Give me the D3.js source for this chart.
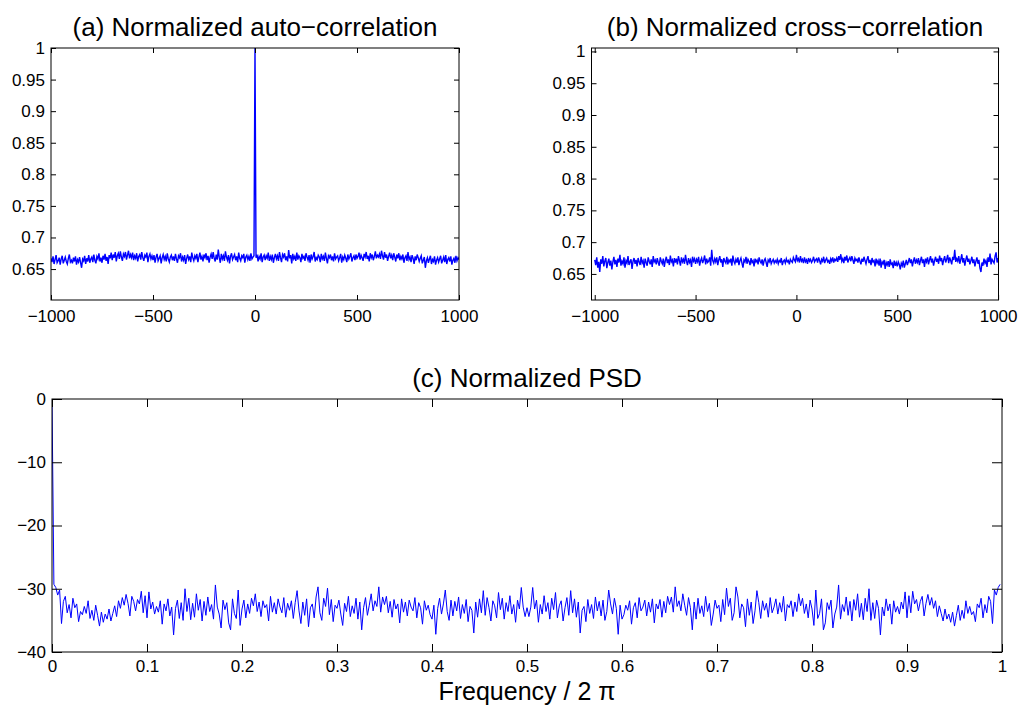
<!DOCTYPE html>
<html>
<head>
<meta charset="utf-8">
<script src="https://cdn.jsdelivr.net/npm/d3@7"></script>
<style>
    body { margin: 0; background: #fff; }
    svg { display: block; font-family: "Liberation Sans", Arial, Helvetica, sans-serif; }
    .tick text { font-size: 17px; fill: #000; }
    .tick line { stroke: #000; }
</style>
</head>
<body>
<script>
// lags -1000..1000, every 5th lag
let autoCorr = [
    0.667,0.661,0.670,0.658,0.665,0.672,0.660,0.663,0.668,0.657,0.666,0.671,0.659,0.664,0.669,0.662,0.658,0.667,0.673,0.661,
    0.664,0.659,0.668,0.662,0.670,0.657,0.665,0.661,0.669,0.660,0.652,0.666,0.663,0.671,0.658,0.667,0.662,0.672,0.660,0.666,
    0.669,0.661,0.673,0.664,0.659,0.670,0.666,0.675,0.662,0.668,0.660,0.671,0.665,0.674,0.663,0.669,0.658,0.672,0.667,0.676,
    0.664,0.673,0.668,0.677,0.662,0.671,0.675,0.666,0.678,0.669,0.663,0.674,0.670,0.677,0.665,0.672,0.679,0.667,0.673,0.668,
    0.676,0.664,0.671,0.667,0.675,0.662,0.670,0.673,0.665,0.677,0.668,0.663,0.672,0.669,0.676,0.661,0.670,0.674,0.666,0.671,
    0.664,0.672,0.660,0.669,0.674,0.663,0.667,0.671,0.659,0.668,0.673,0.665,0.670,0.662,0.675,0.666,0.661,0.669,0.672,0.664,
    0.670,0.663,0.674,0.666,0.660,0.671,0.668,0.675,0.662,0.669,0.664,0.672,0.658,0.667,0.673,0.665,0.670,0.661,0.676,0.668,
    0.663,0.671,0.667,0.674,0.661,0.669,0.676,0.665,0.670,0.662,0.673,0.668,0.675,0.664,0.671,0.660,0.669,0.674,0.666,0.677,
    0.667,0.662,0.673,0.665,0.681,0.668,0.660,0.674,0.666,0.671,0.663,0.678,0.669,0.664,0.672,0.659,0.670,0.675,0.665,0.669,
    0.673,0.664,0.670,0.661,0.676,0.667,0.663,0.671,0.668,0.674,0.660,0.669,0.672,0.665,0.670,0.663,0.675,0.666,0.669,0.671,
    1.000,
    0.668,0.673,0.662,0.670,0.666,0.675,0.661,0.669,0.672,0.664,0.671,0.667,0.676,0.663,0.670,0.665,0.673,0.660,0.668,0.674,
    0.666,0.671,0.663,0.677,0.668,0.661,0.673,0.669,0.675,0.664,0.670,0.662,0.680,0.667,0.672,0.659,0.674,0.666,0.670,0.663,
    0.676,0.665,0.671,0.668,0.661,0.674,0.667,0.670,0.663,0.675,0.669,0.664,0.672,0.660,0.673,0.666,0.670,0.677,0.662,0.668,
    0.665,0.672,0.669,0.661,0.674,0.666,0.670,0.663,0.676,0.667,0.659,0.671,0.668,0.673,0.664,0.670,0.662,0.675,0.666,0.669,
    0.671,0.663,0.668,0.674,0.660,0.669,0.665,0.672,0.667,0.661,0.673,0.666,0.670,0.675,0.662,0.668,0.671,0.664,0.673,0.667,
    0.670,0.676,0.665,0.672,0.668,0.663,0.674,0.669,0.677,0.666,0.671,0.662,0.675,0.668,0.673,0.664,0.670,0.678,0.667,0.672,
    0.669,0.674,0.666,0.679,0.671,0.665,0.677,0.668,0.673,0.663,0.670,0.676,0.667,0.672,0.664,0.675,0.669,0.662,0.673,0.667,
    0.675,0.664,0.670,0.666,0.673,0.660,0.668,0.671,0.663,0.677,0.665,0.669,0.661,0.672,0.667,0.658,0.670,0.664,0.673,0.668,
    0.662,0.667,0.671,0.659,0.664,0.669,0.652,0.663,0.668,0.660,0.666,0.671,0.658,0.665,0.662,0.670,0.657,0.664,0.668,0.661,
    0.666,0.671,0.659,0.664,0.669,0.661,0.672,0.658,0.665,0.668,0.662,0.670,0.657,0.664,0.667,0.660,0.671,0.663,0.668,0.665
]

let crossCorr = [
    0.672,0.664,0.676,0.660,0.669,0.653,0.673,0.666,0.678,0.662,0.670,0.675,0.659,0.668,0.674,0.663,0.671,0.657,0.669,0.677,
    0.665,0.672,0.661,0.674,0.668,0.680,0.663,0.670,0.666,0.676,0.660,0.671,0.667,0.678,0.664,0.669,0.673,0.658,0.670,0.675,
    0.666,0.672,0.662,0.675,0.669,0.664,0.677,0.667,0.671,0.660,0.674,0.668,0.663,0.676,0.670,0.665,0.673,0.661,0.678,0.669,
    0.672,0.665,0.675,0.668,0.663,0.676,0.670,0.666,0.674,0.661,0.671,0.677,0.667,0.673,0.664,0.679,0.669,0.672,0.662,0.675,
    0.668,0.674,0.665,0.678,0.671,0.663,0.676,0.669,0.673,0.666,0.680,0.670,0.664,0.675,0.668,0.672,0.661,0.677,0.670,0.674,
    0.666,0.673,0.669,0.677,0.663,0.671,0.675,0.667,0.672,0.679,0.665,0.674,0.668,0.670,0.676,0.663,0.688,0.671,0.667,0.674,
    0.669,0.676,0.664,0.672,0.678,0.668,0.673,0.661,0.675,0.670,0.667,0.677,0.665,0.672,0.669,0.674,0.663,0.679,0.670,0.666,
    0.673,0.668,0.676,0.664,0.671,0.675,0.667,0.660,0.672,0.669,0.677,0.666,0.673,0.670,0.664,0.675,0.668,0.671,0.662,0.674,
    0.669,0.672,0.665,0.676,0.670,0.667,0.673,0.663,0.671,0.674,0.668,0.661,0.672,0.669,0.675,0.666,0.670,0.673,0.667,0.671,
    0.668,0.673,0.666,0.671,0.669,0.675,0.664,0.670,0.672,0.667,0.674,0.669,0.671,0.665,0.673,0.670,0.668,0.676,0.672,0.669,
    0.680,0.671,0.674,0.668,0.678,0.670,0.673,0.667,0.676,0.669,0.672,0.666,0.675,0.670,0.673,0.668,0.671,0.677,0.669,0.672,
    0.674,0.668,0.676,0.671,0.665,0.673,0.670,0.677,0.667,0.672,0.675,0.669,0.671,0.666,0.674,0.670,0.676,0.668,0.673,0.671,
    0.675,0.669,0.678,0.672,0.681,0.670,0.674,0.667,0.677,0.671,0.679,0.668,0.673,0.676,0.670,0.678,0.672,0.666,0.675,0.671,
    0.673,0.668,0.676,0.670,0.665,0.674,0.669,0.677,0.671,0.666,0.673,0.678,0.667,0.672,0.664,0.675,0.669,0.671,0.662,0.674,
    0.667,0.671,0.663,0.674,0.660,0.669,0.666,0.672,0.658,0.668,0.664,0.670,0.661,0.673,0.665,0.667,0.659,0.671,0.663,0.668,
    0.662,0.669,0.665,0.657,0.667,0.663,0.671,0.660,0.666,0.672,0.664,0.669,0.675,0.667,0.673,0.662,0.670,0.676,0.666,0.672,
    0.668,0.675,0.664,0.671,0.677,0.667,0.673,0.661,0.674,0.669,0.676,0.665,0.672,0.678,0.668,0.674,0.663,0.671,0.677,0.669,
    0.674,0.666,0.679,0.670,0.675,0.664,0.672,0.678,0.668,0.673,0.680,0.667,0.676,0.671,0.665,0.677,0.672,0.688,0.669,0.674,
    0.670,0.678,0.666,0.673,0.681,0.668,0.675,0.663,0.672,0.679,0.669,0.674,0.665,0.671,0.677,0.667,0.673,0.662,0.670,0.676,
    0.666,0.672,0.659,0.653,0.668,0.663,0.674,0.667,0.671,0.661,0.676,0.669,0.682,0.665,0.673,0.670,0.667,0.678,0.684,0.668,
    0.675
]

// normalized PSD in dB, frequency / 2pi from 0 to 0.998
let psdDb = [
    0.0,
    -29.3,-29.8,-31.0,-30.2,-35.5,-32.0,-31.2,-33.8,-32.5,-34.6,-31.5,-33.0,-32.4,-35.2,-33.6,-34.1,-32.8,-33.9,-31.9,-34.7,-33.4,-35.0,-32.6,-34.2,
    -35.9,-33.7,-35.3,-34.0,-34.8,-33.2,-35.1,-33.9,-32.7,-34.4,-31.9,-33.1,-31.4,-32.6,-30.9,-32.3,-34.3,-31.2,-32.0,-33.5,-31.7,-32.4,-30.4,-33.8,-31.1,
    -34.6,-30.5,-33.2,-32.1,-34.0,-32.8,-33.7,-31.9,-35.6,-32.4,-33.5,-31.6,-34.3,-32.9,-37.3,-33.1,-31.8,-34.7,-32.2,-35.0,-30.0,-33.6,-31.5,-34.9,-32.3,
    -34.5,-30.8,-33.4,-31.7,-35.1,-32.0,-34.2,-31.3,-33.6,-32.5,-34.8,-29.4,-32.9,-34.0,-36.2,-31.8,-33.3,-32.2,-35.4,-36.5,-31.6,-33.9,-34.7,-30.2,-35.8,
    -33.2,-31.8,-34.6,-32.4,-33.9,-31.5,-32.7,-30.8,-33.6,-32.1,-34.4,-31.9,-33.0,-32.5,-35.1,-31.2,-33.7,-32.2,-34.0,-31.6,-32.9,-33.8,-31.4,-34.5,-32.3,
    -33.4,-31.9,-34.7,-32.2,-30.3,-33.5,-35.5,-32.1,-34.2,-31.6,-36.0,-33.0,-32.4,-34.6,-31.3,-29.7,-33.8,-35.0,-31.5,-32.8,-29.9,-34.1,-31.7,-35.2,-32.6,
    -33.1,-31.8,-34.0,-35.8,-32.3,-33.6,-31.2,-34.4,-32.7,-33.9,-31.5,-34.8,-32.1,-36.5,-33.0,-31.4,-34.2,-32.6,-30.8,-33.5,-31.9,-32.8,-29.7,-33.7,-31.3,
    -32.5,-31.2,-33.8,-32.0,-34.5,-31.7,-33.2,-32.4,-35.4,-31.6,-33.7,-32.1,-34.3,-31.8,-32.9,-33.5,-31.4,-34.6,-32.2,-33.0,-35.6,-31.9,-33.4,-32.6,-34.1,
    -34.8,-32.6,-37.2,-33.1,-31.5,-34.0,-32.4,-30.2,-33.6,-35.0,-31.8,-34.3,-32.0,-33.5,-31.3,-34.7,-32.5,-33.9,-31.7,-35.2,-32.8,-33.4,-37.0,-32.1,-34.5,
    -31.6,-33.8,-30.3,-34.2,-31.4,-33.0,-35.1,-31.9,-32.7,-34.6,-30.6,-33.3,-31.5,-34.8,-32.2,-33.6,-31.1,-34.0,-32.5,-35.3,-31.8,-33.2,-29.8,-32.9,-34.4,
    -33.0,
    -34.4,-32.9,-29.8,-33.2,-31.8,-35.3,-32.5,-34.0,-31.1,-33.6,-32.2,-34.8,-31.5,-33.3,-30.6,-34.6,-32.7,-31.9,-35.1,-33.0,-31.4,-34.2,-30.3,-33.8,-31.6,
    -34.5,-32.1,-37.0,-33.4,-32.8,-35.2,-31.7,-33.9,-32.5,-34.7,-31.3,-33.5,-32.0,-34.3,-31.8,-35.0,-33.6,-30.2,-32.4,-34.0,-31.5,-33.1,-37.2,-32.6,-34.8,
    -34.1,-32.6,-33.4,-31.9,-35.6,-33.0,-32.2,-34.6,-31.4,-33.5,-32.9,-31.8,-34.3,-32.1,-33.7,-31.6,-35.4,-32.4,-33.2,-31.7,-34.5,-32.0,-33.8,-31.2,-32.5,
    -31.3,-33.7,-29.7,-32.8,-31.9,-33.5,-30.8,-32.6,-34.2,-31.4,-33.0,-36.5,-32.1,-34.8,-31.5,-33.9,-32.7,-34.4,-31.2,-33.6,-32.3,-35.8,-34.0,-31.8,-33.1,
    -32.6,-35.2,-31.7,-34.1,-29.9,-32.8,-31.5,-35.0,-33.8,-29.7,-31.3,-34.6,-32.4,-33.0,-36.0,-31.6,-34.2,-32.1,-35.5,-33.5,-30.3,-32.2,-34.7,-31.9,-33.4,
    -32.3,-34.5,-31.4,-33.8,-32.9,-31.6,-34.0,-32.2,-33.7,-31.2,-35.1,-32.5,-33.0,-31.9,-34.4,-32.1,-33.6,-30.8,-32.7,-31.5,-33.9,-32.4,-34.6,-31.8,-33.2,
    -35.8,-30.2,-34.7,-33.9,-31.6,-36.5,-35.4,-32.2,-33.3,-31.8,-36.2,-34.0,-32.9,-29.4,-34.8,-32.5,-33.6,-31.3,-34.2,-32.0,-35.1,-31.7,-33.4,-30.8,-34.5,
    -32.3,-34.9,-31.5,-33.6,-30.0,-35.0,-32.2,-34.7,-31.8,-33.1,-37.3,-32.9,-34.3,-31.6,-33.5,-32.4,-35.6,-31.9,-33.7,-32.8,-34.0,-32.1,-33.2,-30.5,-34.6,
    -31.1,-33.8,-30.4,-32.4,-31.7,-33.5,-32.0,-31.2,-34.3,-32.3,-30.9,-32.6,-31.4,-33.1,-31.9,-34.4,-32.7,-33.9,-35.1,-33.2,-34.8,-34.0,-35.3,-33.7,-35.9,
    -34.2,-32.6,-35.0,-33.4,-34.7,-31.9,-33.9,-32.8,-34.1,-33.6,-35.2,-32.4,-33.0,-31.5,-34.6,-32.5,-33.8,-31.2,-32.0,-35.5,-30.2,-31.0,-29.8,-29.3
]

let lagTicks = [-1000, -500, 0, 500, 1000]
let corrTicks = [0.65, 0.7, 0.75, 0.8, 0.85, 0.9, 0.95, 1]
let freqTicks = [0, 0.1, 0.2, 0.3, 0.4, 0.5, 0.6, 0.7, 0.8, 0.9, 1]
let dbTicks = [-40, -30, -20, -10, 0]

let lags = d3.range(-1000, 1001, 5)
let freqs = d3.range(psdDb.length).map(i => i / psdDb.length)

let fmt = d => (d < 0 ? '\u2212' : '') + Math.abs(d)

let svg = d3.select('body').append('svg')
    .attr('width', 1019)
    .attr('height', 706)

function drawPanel(p) {
    let x = d3.scaleLinear().domain(p.xDomain).range([p.left, p.right])
    let y = d3.scaleLinear().domain(p.yDomain).range([p.bottom, p.top])
    let g = svg.append('g').attr('class', p.id)

    g.append('clipPath').attr('id', 'clip-' + p.id)
        .append('rect')
        .attr('x', p.left).attr('y', p.top - 1)
        .attr('width', p.right - p.left).attr('height', p.bottom - p.top + 1)

    let line = d3.line()
        .x((d, i) => x(p.xs[i]))
        .y(d => y(d))

    g.append('path')
        .datum(p.ys)
        .attr('clip-path', 'url(#clip-' + p.id + ')')
        .attr('d', line)
        .attr('fill', 'none')
        .attr('stroke', '#0000ff')
        .attr('stroke-width', p.lineWidth)

    g.append('g')
        .attr('transform', 'translate(0,' + p.bottom + ')')
        .call(d3.axisBottom(x).tickValues(p.xTicks).tickFormat(fmt)
            .tickSizeInner(-p.xTickLen).tickSizeOuter(0).tickPadding(p.xPad))
    g.append('g')
        .attr('transform', 'translate(0,' + p.top + ')')
        .call(d3.axisTop(x).tickValues(p.xTicks).tickFormat('')
            .tickSizeInner(-p.xTickLen).tickSizeOuter(0))
    g.append('g')
        .attr('transform', 'translate(' + p.left + ',0)')
        .call(d3.axisLeft(y).tickValues(p.yTicks).tickFormat(fmt)
            .tickSizeInner(-p.yTickLen).tickSizeOuter(0).tickPadding(6))
    g.append('g')
        .attr('transform', 'translate(' + p.right + ',0)')
        .call(d3.axisRight(y).tickValues(p.yTicks).tickFormat('')
            .tickSizeInner(-p.yTickLen).tickSizeOuter(0))

    g.selectAll('.domain').remove()

    g.append('rect')
        .attr('x', p.left).attr('y', p.top)
        .attr('width', p.right - p.left).attr('height', p.bottom - p.top)
        .attr('fill', 'none')
        .attr('stroke', '#000')
        .attr('stroke-width', 1)

    g.append('text')
        .attr('x', (p.left + p.right) / 2)
        .attr('y', p.titleY)
        .attr('text-anchor', 'middle')
        .attr('font-size', 26)
        .text(p.title)
}

drawPanel({
    id: 'auto', left: 51, right: 459, top: 48, bottom: 300,
    xDomain: [-1000, 1000], yDomain: [0.601, 1],
    xTicks: lagTicks, yTicks: corrTicks, xTickLen: 5, yTickLen: 5, xPad: 10,
    xs: lags, ys: autoCorr, lineWidth: 1.4,
    title: '(a) Normalized auto\u2212correlation', titleY: 36
})

drawPanel({
    id: 'cross', left: 591.5, right: 998.5, top: 48, bottom: 300,
    xDomain: [-1016, 1002], yDomain: [0.609, 1.0054],
    xTicks: lagTicks, yTicks: corrTicks, xTickLen: 5, yTickLen: 5, xPad: 10,
    xs: lags, ys: crossCorr, lineWidth: 1.4,
    title: '(b) Normalized cross\u2212correlation', titleY: 36
})

drawPanel({
    id: 'psd', left: 52, right: 1002, top: 399, bottom: 652,
    xDomain: [0, 1], yDomain: [-40, 0],
    xTicks: freqTicks, yTicks: dbTicks, xTickLen: 8, yTickLen: 10, xPad: 8,
    xs: freqs, ys: psdDb, lineWidth: 1,
    title: '(c) Normalized PSD', titleY: 387
})

svg.append('text')
    .attr('x', 527)
    .attr('y', 700)
    .attr('text-anchor', 'middle')
    .attr('font-size', 25)
    .text('Frequency / 2 \u03c0')
</script>
</body>
</html>
